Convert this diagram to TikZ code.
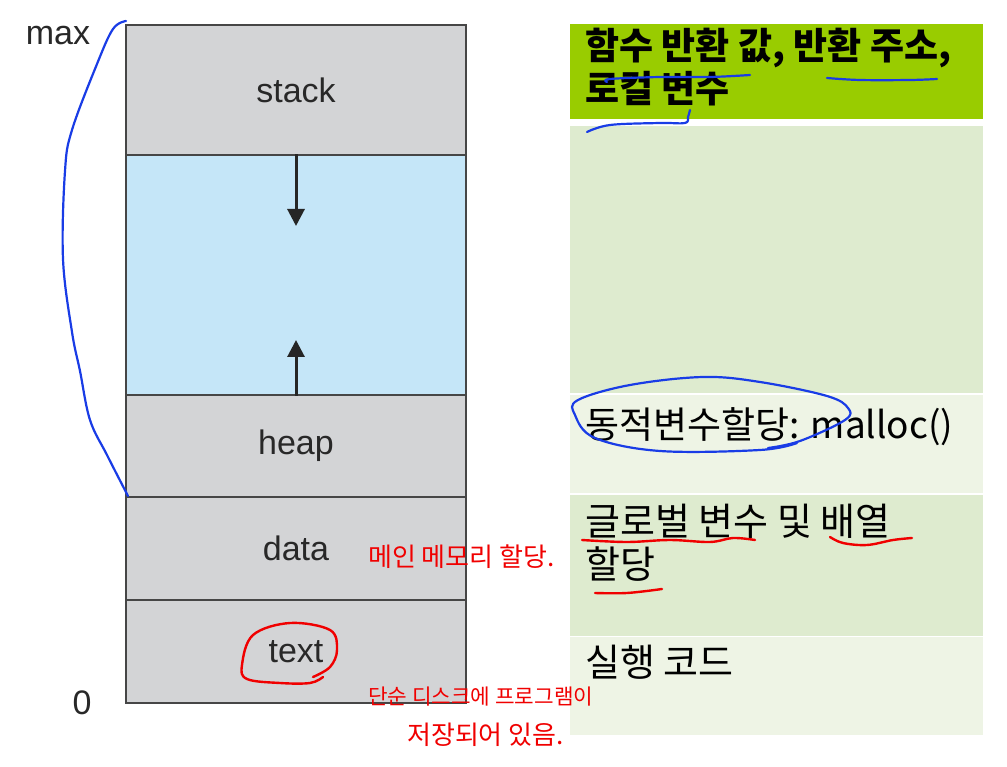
\documentclass[tikz,border=0pt]{standalone}
\usepackage{fontspec}
\setmainfont{Liberation Sans}
\newfontfamily\kofont{Noto Sans CJK KR}
\usetikzlibrary{arrows.meta,positioning}
\definecolor{seggray}{RGB}{211,212,214}
\definecolor{segline}{RGB}{70,70,70}
\definecolor{freeblue}{RGB}{197,230,248}
\definecolor{lbltext}{RGB}{40,40,40}
\definecolor{hdrgreen}{RGB}{153,204,0}
\definecolor{rowdark}{RGB}{222,235,207}
\definecolor{rowlight}{RGB}{238,244,229}
\definecolor{penblue}{RGB}{25,60,230}
\definecolor{penred}{RGB}{240,0,0}
\tikzset{
  seg/.style={rectangle,draw=segline,line width=1.4pt,fill=seggray,
    minimum width=340pt,inner sep=0pt,
    font=\fontsize{34}{40}\selectfont,text=lbltext},
  freeseg/.style={seg,fill=freeblue},
  axlbl/.style={font=\fontsize{34}{40}\selectfont,text=lbltext,inner sep=0pt},
  rowbox/.style={rectangle,fill=rowdark,minimum width=413pt,inner sep=0pt},
  lrowbox/.style={rowbox,fill=rowlight},
  hdrbox/.style={rowbox,fill=hdrgreen},
  rowtxt/.style={font=\kofont\fontsize{38}{43}\selectfont,align=left,
    inner sep=0pt,anchor=base west},
  hdrtxt/.style={rowtxt,font=\kofont\bfseries\fontsize{37}{43}\selectfont},
  growarr/.style={-{Triangle[width=17pt,length=17pt]},line width=3pt,black!85},
  bluepen/.style={penblue,line width=2.2pt,line cap=round,line join=round},
  redpen/.style={penred,line width=2.4pt,line cap=round,line join=round},
  hand/.style={font=\kofont\fontsize{26}{30}\selectfont,text=penred,
    inner sep=0pt,anchor=west},
}
\begin{document}
\begin{tikzpicture}[x=1pt,y=-1pt]
  \useasboundingbox[fill=white] (0,0) rectangle (1007,767);

  % memory layout
  \node[seg,minimum height=130pt]     (stack) at (296,90)    {stack};
  \node[freeseg,minimum height=240pt] (free)  at (296,275)   {};
  \node[seg,minimum height=102pt]     (heap)  at (296,446)   {heap};
  \node[seg,minimum height=103pt]     (data)  at (296,548.5) {data};
  \node[seg,minimum height=103pt]     (text)  at (296,651.5) {text};
  \node[axlbl] (maxlbl)  at (58,36)  {max};
  \node[axlbl] (zerolbl) at (82,703) {0};

  \coordinate (stacktip) at (296,226);
  \coordinate (heaptip)  at (296,340);
  \draw[growarr] (free.north) -- (stacktip);
  \draw[growarr] (free.south) -- (heaptip);

  % notes table
  \node[hdrbox,minimum height=95pt]  (hdr)  at (776.5,71.5)  {};
  \node[rowbox,minimum height=267pt] (row1) at (776.5,259.5) {};
  \node[lrowbox,minimum height=98pt] (row2) at (776.5,444)   {};
  \node[rowbox,minimum height=141pt] (row3) at (776.5,565.5) {};
  \node[lrowbox,minimum height=98pt] (row4) at (776.5,686)   {};

  \node[hdrtxt] (stacknote) at (585,103) {함수 반환 값, 반환 주소,\\로컬 변수};
  \node[rowtxt,font=\kofont\fontsize{37}{43}\selectfont] (heapnote) at (585,438) {동적변수할당: malloc()};
  \node[rowtxt] (datanote)  at (585,578) {글로벌 변수 및 배열\\할당};
  \node[rowtxt] (textnote)  at (585,676) {실행 코드};

  % handwritten marks
  \node[hand] (datamemo)  at (368,557) {메인 메모리 할당.};
  \node[hand,font=\kofont\fontsize{21.3}{25}\selectfont] (textmemoa) at (368,697) {단순 디스크에 프로그램이};
  \node[hand] (textmemob) at (407,735) {저장되어 있음.};

  \draw[bluepen] plot[smooth,tension=0.6] coordinates {(126,21) (113,29) (97,64) (72,130)
    (65,171) (63,259) (72,332) (80,371) (90,420) (107,455) (128,496)};
  \draw[bluepen] plot[smooth,tension=0.6] coordinates {(607,82) (610,79) (660,77) (710,77) (750,75)};
  \draw[bluepen] plot[smooth,tension=0.6] coordinates {(827,78) (860,80) (910,80) (937,79)};
  \draw[bluepen] plot[smooth,tension=0.6] coordinates {(690,110) (688,117) (685,123) (660,123)
    (610,125) (587,132)};
  \draw[bluepen] plot[smooth,tension=0.6] coordinates {(768,448) (800,441) (845,420) (848,408)
    (827,396) (760,382) (703,377) (630,385) (578,400) (575,415) (595,438) (660,451) (760,450)
    (797,443)};

  \draw[redpen] plot[smooth,tension=0.6] coordinates {(323,677) (310,683) (280,683) (247,679)
    (242,665) (253,635) (290,623) (330,630) (337,650) (330,667) (313,677)};
  \draw[redpen] plot[smooth,tension=0.6] coordinates {(582,540) (627,542) (670,540) (710,542)
    (733,538) (755,540)};
  \draw[redpen] plot[smooth,tension=0.6] coordinates {(830,537) (843,543) (867,545) (893,540)
    (912,538)};
  \draw[redpen] plot[smooth,tension=0.6] coordinates {(595,593) (627,593) (662,589)};
\end{tikzpicture}
\end{document}
